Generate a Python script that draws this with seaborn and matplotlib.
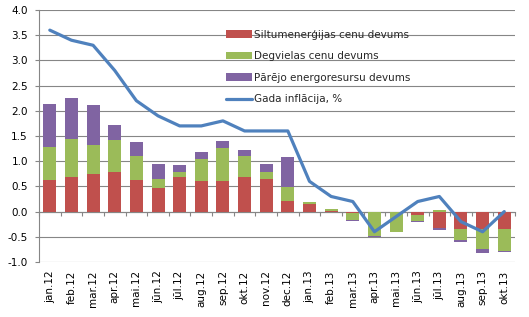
import numpy as np
import pandas as pd
import seaborn as sns
import matplotlib.pyplot as plt

months = ['jan.12', 'feb.12', 'mar.12', 'apr.12', 'mai.12', 'jūn.12', 'jūl.12',
          'aug.12', 'sep.12', 'okt.12', 'nov.12', 'dec.12', 'jan.13', 'feb.13',
          'mar.13', 'apr.13', 'mai.13', 'jūn.13', 'jūl.13', 'aug.13', 'sep.13', 'okt.13']

heat = [0.63, 0.69, 0.75, 0.79, 0.63, 0.47, 0.69, 0.61, 0.61, 0.69, 0.65, 0.22,
        0.16, 0.02, -0.02, 0.0, 0.0, -0.06, -0.33, -0.34, -0.34, -0.34]
fuel = [0.66, 0.76, 0.58, 0.64, 0.47, 0.18, 0.09, 0.44, 0.66, 0.42, 0.14, 0.26,
        0.04, 0.04, -0.15, -0.48, -0.40, -0.13, 0.04, -0.22, -0.41, -0.45]
other = [0.85, 0.81, 0.79, 0.29, 0.29, 0.30, 0.14, 0.14, 0.14, 0.12, 0.15, 0.60,
         0.0, 0.0, -0.01, -0.02, -0.01, -0.02, -0.04, -0.05, -0.08, -0.01]
inflation = [3.6, 3.4, 3.3, 2.8, 2.2, 1.9, 1.7, 1.7, 1.8, 1.6, 1.6, 1.6,
             0.6, 0.3, 0.2, -0.4, -0.1, 0.2, 0.3, -0.2, -0.4, 0.0]

labels = ['Siltumenerģijas cenu devums', 'Degvielas cenu devums',
          'Pārējo energoresursu devums', 'Gada inflācija, %']
colors = ['#C0504D', '#9BBB59', '#8064A2']
line_color = '#4F81BD'
grid_color = '#868686'

sns.set_theme(style='white')
plt.rcParams['font.family'] = ['DejaVu Sans']
plt.rcParams['font.size'] = 7.5

fig = plt.figure(figsize=(5.29, 3.17), dpi=100)
ax = fig.add_axes([0.0737, 0.1735, 0.9, 0.795])

# stacked bars, positive and negative parts stacked separately
pos_base = np.zeros(len(months))
neg_base = np.zeros(len(months))
for series, col, lab in zip([heat, fuel, other], colors, labels):
    vals = np.array(series)
    base = np.where(vals >= 0, pos_base, neg_base)
    df = pd.DataFrame({'month': months, 'value': vals})
    sns.barplot(data=df, x='month', y='value', color=col, width=0.6,
                bottom=base, saturation=1, ax=ax, label=lab, linewidth=0)
    pos_base = pos_base + np.where(vals >= 0, vals, 0)
    neg_base = neg_base + np.where(vals < 0, vals, 0)

sns.lineplot(x=np.arange(len(months)), y=inflation, color=line_color,
             linewidth=2.3, ax=ax, label=labels[3])

ax.set_xlim(-0.5, len(months) - 0.5)
ax.set_ylim(-1.0, 4.0)
ax.set_yticks(np.arange(-1.0, 4.01, 0.5))
ax.set_yticklabels([f'{v:.1f}' for v in np.arange(-1.0, 4.01, 0.5)])
ax.yaxis.grid(True, color=grid_color, linewidth=0.8)
ax.set_axisbelow(True)
ax.set_xlabel('')
ax.set_ylabel('')

for s in ['top', 'right', 'bottom']:
    ax.spines[s].set_visible(False)
ax.spines['left'].set_color(grid_color)
ax.spines['left'].set_linewidth(0.8)

ax.tick_params(axis='y', left=True, length=3, width=0.8, color=grid_color,
               pad=5, labelsize=7.5, labelcolor='black')
ax.tick_params(axis='x', bottom=False, length=0, pad=6, labelsize=7.5,
               labelrotation=90, labelcolor='black')

# zero line with category separators
zero_ax = ax.secondary_xaxis(0.2)
zero_ax.set_xticks(np.arange(-0.5, len(months), 1.0))
zero_ax.set_xticklabels([])
zero_ax.tick_params(axis='x', direction='out', length=3, width=0.8, color=grid_color)
zero_ax.spines['bottom'].set_color(grid_color)
zero_ax.spines['bottom'].set_linewidth(0.8)

handles, labs = ax.get_legend_handles_labels()
order = [labs.index(l) for l in labels]
leg = ax.legend([handles[i] for i in order], [labs[i] for i in order],
                loc='upper left', bbox_to_anchor=(0.383, 0.938), frameon=False,
                handlelength=2.5, handletextpad=0.2, labelspacing=1.1,
                fontsize=7.5, borderaxespad=0)

fig.savefig('out.png', dpi=100)
